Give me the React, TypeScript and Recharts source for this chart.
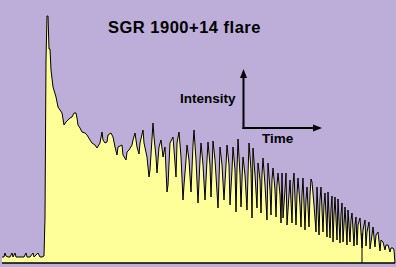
import React from "react";
import { Area, AreaChart, Customized, ReferenceLine, XAxis, YAxis } from "recharts";

// time axis (arbitrary units, left edge = 0) and counts
const time = [
  0, 2, 3, 4, 6, 8, 10, 11, 13, 14, 18, 22, 24, 25, 28, 31, 32, 34, 36, 38, 40, 42,
  43, 44, 45, 46, 47, 48, 49, 51, 54, 56, 58, 60, 62, 64, 66, 68, 70, 72, 74, 75, 76,
  78, 80, 83, 85, 88, 90, 93, 95, 98, 100, 101, 103, 105, 106, 109, 111, 113, 115, 116,
  118, 120, 121, 124, 125, 127, 130, 131, 133, 135, 137, 138, 141, 142, 145, 147, 148,
  151, 152, 154, 155, 157, 159, 161, 163, 165, 166, 168, 171, 173, 174, 175, 177, 179,
  181, 182, 184, 185, 187, 189, 191, 192, 194, 196, 198, 199, 201, 203, 205, 206, 208,
  209, 210, 211, 213, 216, 217, 218, 220, 222, 224, 225, 227, 228, 230, 231, 233, 234,
  235, 236, 238, 239, 240, 241, 243, 245, 246, 247, 249, 250, 251, 253, 255, 256, 258,
  259, 260, 261, 263, 265, 266, 268, 269, 270, 271, 273, 274, 275, 276, 278, 279, 280,
  281, 283, 284, 285, 287, 288, 290, 291, 292, 294, 295, 296, 298, 299, 300, 301, 303,
  304, 305, 307, 308, 309, 310, 312, 314, 315, 317, 318, 319, 321, 322, 323, 325, 326,
  328, 329, 330, 331, 332, 333, 335, 336, 338, 339, 340, 341, 343, 345, 346, 348, 349,
  350, 352, 353, 354, 355, 356, 358, 360, 361, 363, 364, 365, 367, 368, 370, 371, 373,
  374, 376, 378, 379, 381, 383, 384, 386, 388, 389, 391, 392, 393,
];

const counts = [
  6, 6, 10, 7, 6, 6, 10, 6, 10, 6, 6, 6, 10, 6, 6, 10, 6, 8, 10, 6, 6, 7,
  46, 203, 247, 247, 214, 214, 193, 176, 166, 156, 153, 150, 138, 141, 143, 145, 146, 150, 150, 145, 138,
  135, 131, 130, 128, 123, 120, 118, 115, 120, 131, 123, 120, 121, 128, 130, 126, 116, 108, 116,
  117, 118, 108, 103, 111, 113, 118, 123, 130, 116, 109, 120, 133, 120, 106, 86, 93,
  140, 126, 106, 90, 116, 123, 106, 116, 71, 78, 120, 126, 100, 86, 120, 131,
  106, 63, 78, 103, 118, 103, 71, 118, 133, 103, 60, 103, 120, 98, 63, 103, 121, 98,
  66, 93, 122, 103, 55, 83, 116, 98, 63, 98, 118, 98, 58, 93, 116, 93, 51,
  93, 124, 88, 56, 83, 106, 88, 53, 88, 120, 93, 45, 115, 88, 55, 100, 83,
  50, 88, 105, 78, 43, 100, 73, 48, 83, 95, 73, 46, 78, 90, 68, 40, 90,
  45, 73, 90, 38, 68, 83, 40, 78, 90, 38, 68, 85, 58, 36, 68, 85, 33,
  63, 76, 36, 68, 84, 81, 58, 31, 76, 28, 63, 76, 31, 58, 70, 26, 71,
  25, 53, 67, 21, 48, 66, 23, 64, 20, 48, 60, 21, 56, 18, 53, 21, 43,
  50, 17, 38, 46, 18, 38, 45, 15, 33, 43, 17, 31, 41, 14, 28, 36, 16,
  28, 31, 12, 23, 21, 13, 18, 18, 11, 15, 15, 13, 0,
];

const title = "SGR 1900+14 flare";
const spanLabel = "~5 minutes";

const data = time.map((t, i) => ({ time: t, counts: counts[i] }));

const Annotations = () => (
  <g fontFamily="'Liberation Sans', Arial, sans-serif" fontWeight="bold" fill="#000">
    <text x={108} y={33} fontSize={16.5} letterSpacing={0.5}>{title}</text>
    <text x={180} y={103} fontSize={13.5}>Intensity</text>
    <text x={262} y={143} fontSize={13.5}>Time</text>
    <text x={160} y={256.5} fontSize={12} fontStyle="italic">{spanLabel}</text>
    {/* intensity / time key */}
    <line x1={243.5} y1={76} x2={243.5} y2={129} stroke="#000" strokeWidth={2} />
    <polygon points="243.5,69 240,78 247,78" />
    <line x1={242.5} y1={128} x2={315} y2={128} stroke="#000" strokeWidth={2} />
    <polygon points="322,128 313,124.5 313,131.5" />
    {/* ~5 minute span */}
    <line x1={124} y1={252} x2={142} y2={252} stroke="#000" strokeWidth={1.5} />
    <polygon points="117,252 126,249 126,255" />
    <line x1={229} y1={252} x2={253} y2={252} stroke="#000" strokeWidth={1.5} />
    <polygon points="260,252 251,249 251,255" />
  </g>
);

export default function App() {
  return (
    <div style={{ width: 396, height: 267, background: "#bcaed8" }}>
      <style>{"body{margin:0}"}</style>
      <AreaChart width={396} height={267} data={data} margin={{ top: 13, right: 1, bottom: 4, left: 2 }}>
        <XAxis type="number" dataKey="time" domain={[0, 393]} hide />
        <YAxis type="number" domain={[0, 250]} hide />
        <Area
          type="linear"
          dataKey="counts"
          stroke="#000"
          strokeWidth={1}
          fill="#ffff99"
          fillOpacity={1}
          baseValue={0}
          isAnimationActive={false}
        />
        <ReferenceLine y={0} stroke="#000" strokeWidth={1.5} />
        <ReferenceLine segment={[{ x: 360, y: 0 }, { x: 360, y: 30 }]} stroke="#000" strokeWidth={1} />
        <Customized component={Annotations} />
      </AreaChart>
    </div>
  );
}
